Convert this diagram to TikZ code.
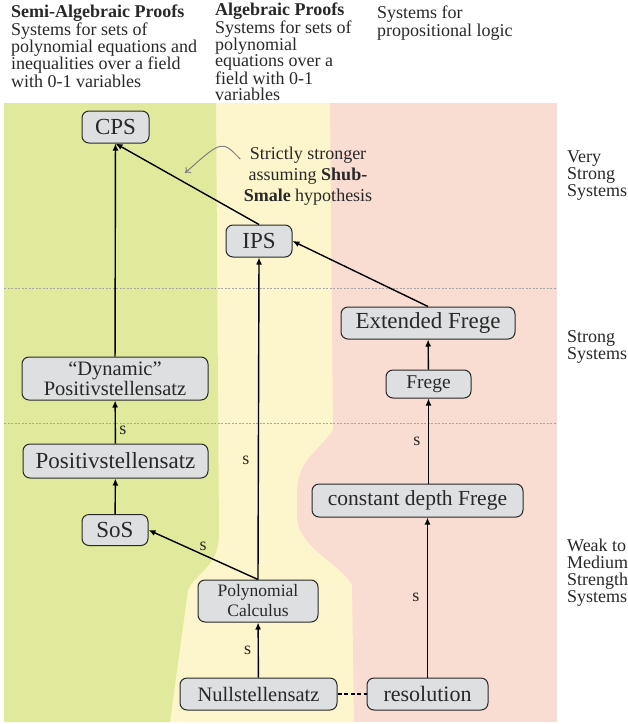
\documentclass[tikz,border=0pt]{standalone}
\usepackage{fontspec}
\setmainfont{Liberation Serif}
\usepackage{tikz}
\usetikzlibrary{arrows.meta}

\definecolor{semigreen}{RGB}{225,234,156}
\definecolor{algyellow}{RGB}{253,246,204}
\definecolor{proppink}{RGB}{249,220,210}
\definecolor{boxgrey}{RGB}{222,223,225}
\definecolor{inkgrey}{RGB}{40,40,40}

\begin{document}
\begin{tikzpicture}[x=1pt, y=-1pt,
    sys/.style={draw=inkgrey, line width=1pt, fill=boxgrey, rounded corners=7pt,
        text=inkgrey, inner sep=0pt, minimum height=32pt, align=center,
        font=\fontsize{23}{24}\selectfont},
    imp/.style={draw=black, line width=1.4pt, -{Latex[length=7pt,width=6pt]}},
    lbl/.style={font=\fontsize{18}{18}\selectfont, text=inkgrey},
    band/.style={draw=gray!70, line width=0.7pt, dash pattern=on 2pt off 1.5pt},
    head/.style={font=\fontsize{18}{16}\selectfont, text=inkgrey, align=left,
        inner sep=0pt, anchor=north west}]
    \useasboundingbox (0,0) rectangle (628,724);

    \fill[proppink] (4,103) rectangle (557,722);
    \fill[algyellow] (4,103) -- (330,103) -- (333,430)
        .. controls (318,452) and (299,458) .. (297,490) -- (297,518)
        .. controls (299,548) and (338,562) .. (352,585) -- (354,722)
        -- (4,722) -- cycle;
    \fill[semigreen] (4,103) -- (216,103) -- (219,535)
        .. controls (218,568) and (196,572) .. (188,590) -- (170,722)
        -- (4,722) -- cycle;

    \draw[band] (4,288) -- (557,288);
    \draw[band] (4,423) -- (557,423);

    \node[head] (semihead) at (11,4.5) {\textbf{Semi-Algebraic Proofs}\\Systems for sets of\\polynomial equations and\\inequalities over a field\\with 0-1 variables};
    \node[head] (alghead) at (215,3) {\textbf{Algebraic Proofs}\\Systems for sets of\\polynomial\\equations over a\\field with 0-1\\variables};
    \node[head] (prophead) at (377,6) {Systems for\\propositional logic};

    \node[head, font=\fontsize{18}{17}\selectfont] (verystrong) at (567,151) {Very\\Strong\\Systems};
    \node[head, font=\fontsize{18}{17}\selectfont] (strong) at (567,330) {Strong\\Systems};
    \node[head, font=\fontsize{18}{17}\selectfont] (weak) at (567,539) {Weak to\\Medium\\Strength\\Systems};

    \node[sys, minimum width=67pt] (cps) at (115.5,127) {CPS};
    \node[sys, minimum width=66pt] (ips) at (259,241) {IPS};
    \node[sys, minimum width=174pt] (efrege) at (428,323) {Extended Frege};
    \node[sys, minimum width=85pt, minimum height=28pt, font=\fontsize{19.5}{20}\selectfont] (frege) at (428.5,384) {Frege};
    \node[sys, minimum width=186pt, minimum height=43pt, font=\fontsize{20.5}{20}\selectfont] (dynpos) at (115,378.5) {“Dynamic”\\Positivstellensatz};
    \node[sys, minimum width=185pt, minimum height=34pt] (pos) at (115.5,461) {Positivstellensatz};
    \node[sys, minimum width=66pt, minimum height=31pt] (sos) at (115,530) {SoS};
    \node[sys, minimum width=211pt, minimum height=33pt, font=\fontsize{21.5}{24}\selectfont] (cdf) at (417.5,500.5) {constant depth Frege};
    \node[sys, minimum width=120pt, minimum height=42pt, font=\fontsize{17.5}{20}\selectfont] (pc) at (258,601) {Polynomial\\Calculus};
    \node[sys, minimum width=157pt, font=\fontsize{20.5}{22}\selectfont] (nullst) at (258.5,694) {Nullstellensatz};
    \node[sys, minimum width=121pt, font=\fontsize{22}{24}\selectfont] (res) at (427.5,694) {resolution};

    \node[lbl, align=center, font=\fontsize{18}{21}\selectfont] (shub) at (308,176) {Strictly stronger\\assuming \textbf{Shub-}\\\textbf{Smale} hypothesis};
    \coordinate (shubtip) at (185,173);
    \draw[gray, line width=1pt, -{To[length=5pt,width=8pt]}] (shub.166) .. controls (222,140) .. (shubtip);

    \draw[imp] (dynpos) -- (cps);
    \draw[imp] (ips.north) -- (cps.south);
    \draw[imp] (pos) -- node[lbl, right, pos=0.3] {s} (dynpos);
    \draw[imp] (sos) -- (pos);
    \draw[imp] (pc.north) -- node[lbl, above] {s} (sos.east);
    \draw[imp] (pc.north) -- node[lbl, left=5pt, pos=0.37] {s} (ips.south);
    \draw[imp] (nullst) -- node[lbl, left=3pt] {s} (pc);
    \draw[line width=1.2pt, dash pattern=on 4pt off 2.5pt] (nullst) -- (res);
    \draw[imp] (res.north) -- node[lbl, left=4pt] {s} (res.north |- cdf.south);
    \draw[imp] (cdf.north -| frege.south) -- node[lbl, left=4pt] {s} (frege.south);
    \draw[imp] (frege) -- (efrege);
    \draw[imp] (efrege.north) -- (ips.east);
\end{tikzpicture}
\end{document}
